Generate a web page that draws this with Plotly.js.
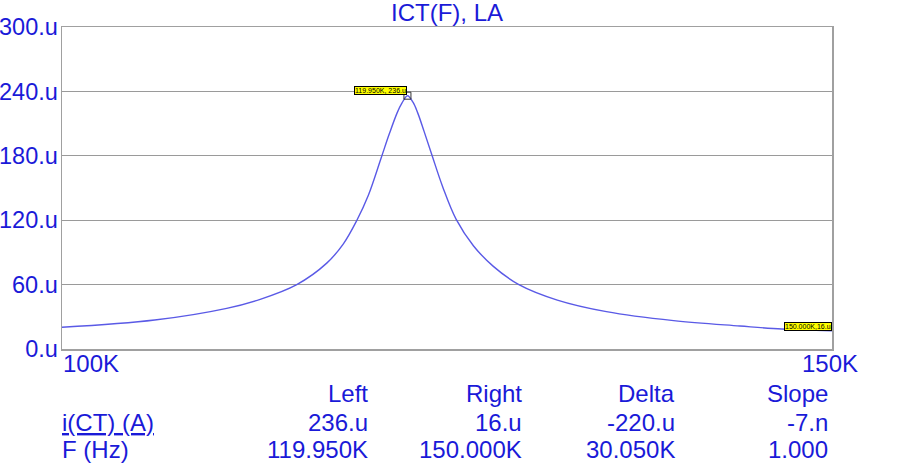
<!DOCTYPE html>
<html>
<head>
<meta charset="utf-8">
<script src="https://cdn.plot.ly/plotly-3.0.1.min.js"></script>
<style>html,body{margin:0;padding:0;background:#fff;}#chart{width:897px;height:472px;}</style>
</head>
<body>
<div id="chart"></div>
<script>
// Frequency in kHz, current in µA
const freqK = [100, 105, 109.06, 111, 113.16, 114.96, 115.97, 116.8, 117.5, 118.3, 118.8, 119.3, 119.6, 119.95, 120.3, 120.6, 121.0, 121.5, 122.2, 123.06, 124.2, 125.5, 127.2, 129.8, 133.2, 138, 142.9, 146.1, 150];
const currentU = [20.2, 27, 37.9, 46.3, 60, 80, 98, 120, 143, 178, 200, 220, 229, 236, 230, 220, 203, 181, 151, 121, 96, 77, 60, 45.6, 34.8, 26.4, 21.4, 18.6, 17];

const yTickVals = [0, 60, 120, 180, 240, 300];
const yTickText = ['0.u', '60.u', '120.u', '180.u', '240.u', '300.u'];
const xTickLabels = ['100K', '150K'];

const cursorLeft = {f: 119.95, v: 236, label: '119.950K, 236.u'};
const cursorRight = {f: 150, v: 17, label: '150.000K,16.u'};

const tableHeaders = ['Left', 'Right', 'Delta', 'Slope'];
const rowNames = ['<u>i(CT) (A)</u>', 'F (Hz)'];
const rowCurrent = ['236.u', '16.u', '-220.u', '-7.n'];
const rowFreq = ['119.950K', '150.000K', '30.050K', '1.000'];

const BLUE = '#1a1ad8';
const FONT = 'Liberation Sans, Arial, sans-serif';
const FS = 24;

// pixel helpers for paper coords (plot area 62..832 x 27..349)
const L = 62, R = 832, T = 27, B = 349;
const px = p => (p - L) / (R - L);
const py = p => (B - p) / (B - T);

const annotations = [];
// x tick labels
annotations.push({xref:'paper', yref:'paper', x: px(61), y: py(363), text: xTickLabels[0], xanchor:'left', yanchor:'middle', showarrow:false, font:{family:FONT, size:FS, color:BLUE}});
annotations.push({xref:'paper', yref:'paper', x: px(860), y: py(363), text: xTickLabels[1], xanchor:'right', yanchor:'middle', showarrow:false, font:{family:FONT, size:FS, color:BLUE}});
// table
const colRight = [370, 524, 677, 830];
const rowY = [393, 422, 450];
tableHeaders.forEach((h, i) => annotations.push({xref:'paper', yref:'paper', x: px(colRight[i]), y: py(rowY[0]), text: h, xanchor:'right', yanchor:'middle', showarrow:false, font:{family:FONT, size:FS, color:BLUE}}));
rowNames.forEach((n, j) => annotations.push({xref:'paper', yref:'paper', x: px(60), y: py(rowY[j+1]), text: n, xanchor:'left', yanchor:'middle', showarrow:false, font:{family:FONT, size:FS, color:BLUE}}));
rowCurrent.forEach((t, i) => annotations.push({xref:'paper', yref:'paper', x: px(colRight[i]), y: py(rowY[1]), text: t, xanchor:'right', yanchor:'middle', showarrow:false, font:{family:FONT, size:FS, color:BLUE}}));
rowFreq.forEach((t, i) => annotations.push({xref:'paper', yref:'paper', x: px(colRight[i]), y: py(rowY[2]), text: t, xanchor:'right', yanchor:'middle', showarrow:false, font:{family:FONT, size:FS, color:BLUE}}));
// cursor labels
annotations.push({x: Math.log10(cursorLeft.f), y: cursorLeft.v, text: cursorLeft.label, xanchor:'right', yanchor:'middle', yshift: 5, showarrow:false, bgcolor:'#ffff00', bordercolor:'#000', borderwidth:1, borderpad:0, font:{family:FONT, size:7, color:'#000'}});
annotations.push({x: Math.log10(cursorRight.f), y: cursorRight.v, text: cursorRight.label, xanchor:'right', yanchor:'middle', yshift: 4, showarrow:false, bgcolor:'#ffff00', bordercolor:'#000', borderwidth:1, borderpad:0, font:{family:FONT, size:7, color:'#000'}});

const traces = [
  {x: freqK, y: currentU, type:'scatter', mode:'lines', line:{color:'#5a5ae6', width:1.4, shape:'spline', smoothing:1}, hoverinfo:'none'},
  {x: [cursorLeft.f], y: [cursorLeft.v], type:'scatter', mode:'markers', marker:{symbol:'square-open', size:7, color:'#333', line:{width:1, color:'#333'}}, hoverinfo:'none'}
];

const layout = {
  width: 897, height: 472,
  margin: {l: L, r: 897 - R, t: T, b: 472 - B, pad: 0},
  paper_bgcolor: '#fff', plot_bgcolor: '#fff',
  showlegend: false,
  title: {text: 'ICT(F), LA', x: 447/897, xanchor:'center', y: 1 - 13/472, yanchor:'middle', font:{family:FONT, size:FS, color:BLUE}},
  xaxis: {type:'log', range:[Math.log10(100), Math.log10(150)], showticklabels:false, ticks:'', showgrid:false, zeroline:false, showline:true, linecolor:'#a0a0a0', linewidth:1.5, mirror:true, fixedrange:true},
  yaxis: {range:[0, 300], tickvals: yTickVals, ticktext: yTickText, ticks:'', showgrid:true, gridcolor:'#9a9a9a', gridwidth:1, zeroline:false, showline:true, linecolor:'#a0a0a0', linewidth:1.5, mirror:true, tickfont:{family:FONT, size:23.5, color:BLUE}, ticklabelstandoff: -2, fixedrange:true},
  shapes: [
    {type:'line', xref:'x', yref:'paper', x0: Math.log10(cursorLeft.f), x1: Math.log10(cursorLeft.f), y0:0, y1:1, line:{color:'#8c8c8c', width:1.5}, layer:'below'},
    {type:'line', xref:'x', yref:'paper', x0: Math.log10(cursorRight.f), x1: Math.log10(cursorRight.f), y0:0, y1:1, line:{color:'#555', width:1.5, dash:'dot'}}
  ],
  annotations: annotations
};

Plotly.newPlot('chart', traces, layout, {displayModeBar:false, staticPlot:true});
</script>
</body>
</html>
